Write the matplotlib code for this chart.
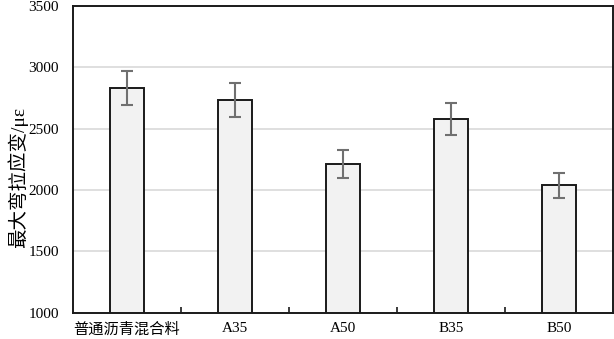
import matplotlib
matplotlib.use("Agg")
import matplotlib.pyplot as plt
import numpy as np

plt.rcParams['font.family'] = ['Liberation Serif', 'Noto Sans CJK SC']

CATEGORIES = ['普通沥青混合料', 'A35', 'A50', 'B35', 'B50']
STRAIN = [2830, 2732, 2212, 2580, 2038]
STRAIN_ERR = [140, 137, 112, 128, 103]
YLABEL = '最大弯拉应变/με'


def main():
    fig = plt.figure(figsize=(6.14, 3.39), dpi=100)
    ax = fig.add_axes([0.119, 0.078, 0.879, 0.904])

    x = np.arange(len(CATEGORIES))
    ax.bar(x, [v - 1000 for v in STRAIN], bottom=1000, width=0.315,
           color='#f2f2f2', edgecolor='#1a1a1a', linewidth=1.4, zorder=3)
    ax.errorbar(x, STRAIN, yerr=STRAIN_ERR, fmt='none', ecolor='#707070',
                elinewidth=1.5, capsize=4, capthick=1.5, zorder=4)

    ax.set_xlim(-0.5, len(CATEGORIES) - 0.5)
    ax.set_ylim(1000, 3500)
    ax.set_yticks(np.arange(1000, 3501, 500))
    ax.yaxis.grid(True, color='#d9d9d9', linewidth=1.2, zorder=0)
    ax.set_axisbelow(True)

    ax.set_xticks(x)
    ax.set_xticklabels(CATEGORIES, fontsize=11)
    ax.set_xticks(np.arange(0.5, len(CATEGORIES) - 1, 1.0), minor=True)
    ax.tick_params(axis='x', which='major', length=0, pad=7)
    ax.tick_params(axis='x', which='minor', direction='in', length=4,
                   width=1.2, color='#1a1a1a')
    ax.tick_params(axis='y', length=0, pad=10, labelsize=11)

    for side in ax.spines.values():
        side.set_color('#1a1a1a')
        side.set_linewidth(1.4)

    ax.set_ylabel(YLABEL, fontsize=14)
    ax.yaxis.set_label_coords(-0.084, 0.44)

    fig.savefig('out.png', dpi=100)


main()
